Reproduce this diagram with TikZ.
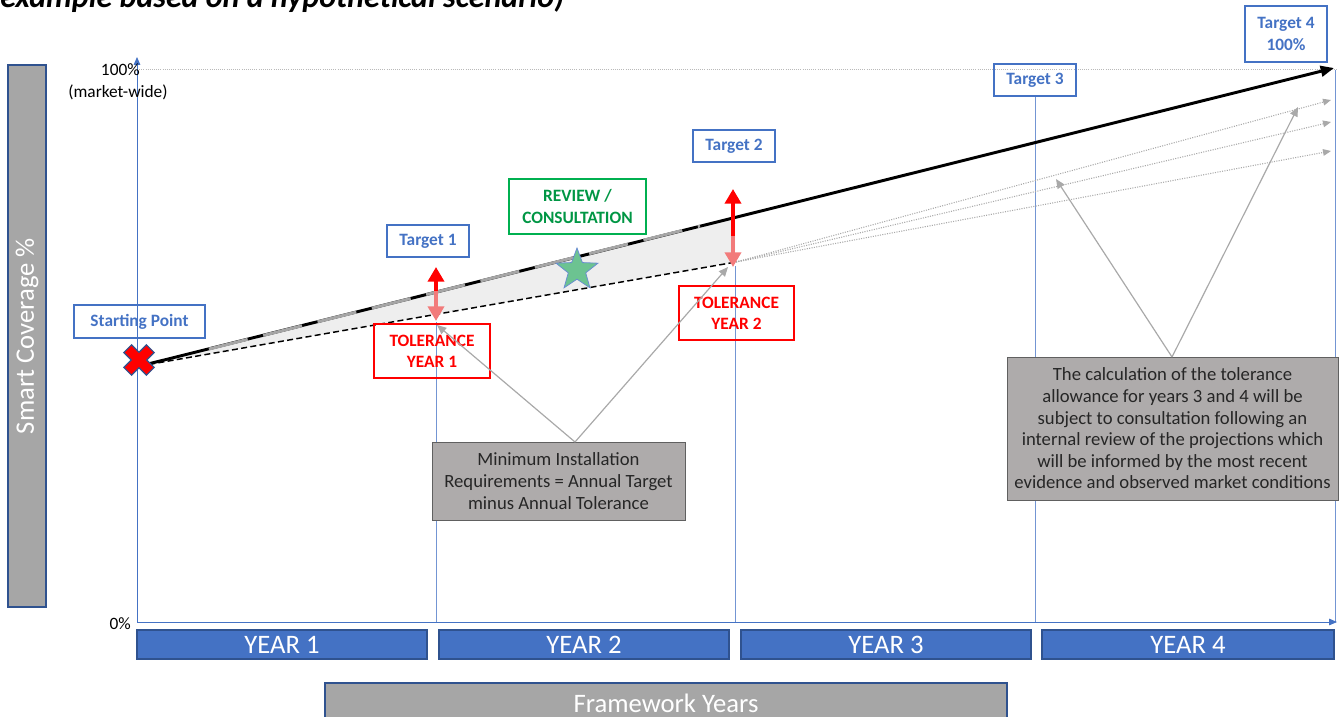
\documentclass[tikz,border=0pt]{standalone}
\usepackage{fontspec}
\setmainfont{Carlito}
\usepackage{tikz}
\usetikzlibrary{arrows.meta, shapes.geometric}
\definecolor{tblue}{HTML}{4472C4}
\definecolor{tblueline}{HTML}{2F528F}
\definecolor{tred}{HTML}{FF0000}
\definecolor{tpink}{HTML}{F27B7B}
\definecolor{tgreen}{HTML}{00B050}
\definecolor{stargreen}{HTML}{6CC391}
\definecolor{notegray}{HTML}{AEABAB}
\definecolor{bargray}{HTML}{A6A6A6}
\definecolor{wedgegray}{HTML}{EEEEEE}
\definecolor{arrgray}{HTML}{A9A9A9}
\tikzset{
  tgtbox/.style={draw=tblue,text=tblue,line width=0.9pt,inner sep=0pt,align=center,font=\bfseries\fontsize{13}{16}\selectfont},
  tolbox/.style={tgtbox,draw=tred,text=tred},
  revbox/.style={tgtbox,draw=tgreen,text=tgreen!85!black},
  notebox/.style={fill=notegray,draw=gray!75!black,line width=0.6pt,inner sep=0pt,align=center,text=black!85,font=\fontsize{14}{16.2}\selectfont},
  yearbar/.style={fill=tblue,draw=tblueline,line width=0.8pt,text=white,inner sep=0pt,minimum height=21.75pt,minimum width=217.5pt,font=\fontsize{20}{24}\selectfont},
  greybar/.style={fill=bargray,draw=tblueline,line width=0.8pt,text=white,inner sep=0pt,font=\fontsize{20}{24}\selectfont},
  axline/.style={draw=tblue,line width=0.6pt},
  axarrow/.style={axline,-{Triangle[length=6pt,width=5pt]}},
  divline/.style={draw=tblue!75,line width=0.6pt},
  mainarrow/.style={-{Triangle[length=10pt,width=8pt]},line width=2.2pt,black},
  tolline/.style={dashed,dash pattern=on 4.5pt off 2.5pt,line width=1.1pt,black},
  projarrow/.style={-{Triangle[length=6pt,width=5pt]},densely dotted,line width=0.8pt,arrgray},
  notearrow/.style={-{Triangle[length=7pt,width=6pt]},line width=0.9pt,arrgray},
  redup/.style={-{Triangle[length=11pt,width=12pt]},line width=3.4pt,tred},
  pinkdown/.style={-{Triangle[length=11pt,width=12pt]},line width=3.4pt,tpink},
}

\begin{document}
\begin{tikzpicture}[x=0.75pt,y=-0.75pt]
  \useasboundingbox (0,0) rectangle (1340,717);
  \node[anchor=base west,inner sep=0pt,font=\bfseries\itshape\fontsize{24}{28}\selectfont] (ttl) at (0,8) {example based on a hypothetical scenario)};

  % axes and grid
  \coordinate (org) at (137,622);
  \coordinate (ytop) at (137,57);
  \coordinate (xend) at (1337,622);
  \coordinate (hl) at (137,69);
  \coordinate (hr) at (1338,69);
  \fill[wedgegray] (140,366) -- (735,217) -- (735,262) -- cycle;
  \draw[gray!55,densely dotted,line width=0.6pt] (hl) -- (hr);
  \draw[divline] (436,322) -- (436,622);
  \draw[divline] (735,266) -- (735,622);
  \draw[divline] (1035,96) -- (1035,622);
  \draw[divline] (1335,70) -- (1335,622);
  \draw[axarrow] (org) -- (ytop);
  \draw[axarrow] (org) -- (xend);
  \node[anchor=east,inner sep=0pt,font=\fontsize{13}{15}\selectfont] (lbhi) at (140,70) {100\%};
  \node[inner sep=0pt,font=\fontsize{13}{15}\selectfont] (lbmw) at (118,92) {(market-wide)};
  \node[anchor=east,inner sep=0pt,font=\fontsize{13}{15}\selectfont] (lblo) at (131,624) {0\%};
  \node[greybar,rotate=90,minimum width=406.5pt,minimum height=28.5pt] (ylab) at (27,336) {Smart Coverage \%};

  % trajectories
  \coordinate (st) at (140,366);
  \coordinate (end4) at (1334,68);
  \coordinate (tol2) at (736,262);
  \coordinate (pa) at (1331,100);
  \coordinate (pb) at (1331,122);
  \coordinate (pc) at (1331,151);
  \draw[tolline] (st) -- (tol2);
  \draw[projarrow] (tol2) -- (pa);
  \draw[projarrow] (tol2) -- (pb);
  \draw[projarrow] (tol2) -- (pc);
  \draw[mainarrow] (st) -- (end4);
  \draw[gray!70,line width=2.2pt,dash pattern=on 30pt off 12pt,dash phase=-45pt] (205,350) -- (700,226);

  % tolerance arrows
  \coordinate (m1) at (436,292);
  \coordinate (u1) at (436,267);
  \coordinate (d1) at (436,321);
  \coordinate (m2) at (733,250);
  \coordinate (u2) at (733,189);
  \coordinate (n2) at (733,236);
  \coordinate (d2) at (733,267);
  \draw[redup] (m1) -- (u1);
  \draw[pinkdown] ([yshift=1pt]m1) -- (d1);
  \draw[redup] (m2) -- (u2);
  \draw[pinkdown] (n2) -- (d2);

  % start cross and review star
  \begin{scope}[shift={(139,360)},rotate=45]
    \draw[fill=tred,draw=tblueline,line width=0.9pt]
      (5.5,16) -- (5.5,5.5) -- (16,5.5) -- (16,-5.5) -- (5.5,-5.5) -- (5.5,-16)
      -- (-5.5,-16) -- (-5.5,-5.5) -- (-16,-5.5) -- (-16,5.5) -- (-5.5,5.5) -- (-5.5,16) -- cycle;
  \end{scope}
  \node[star,star points=5,star point ratio=2.4,minimum size=33pt,inner sep=0pt,fill=stargreen,draw=tblue!80,line width=0.6pt] (rstar) at (577,270) {};

  % labels
  \node[tgtbox,minimum width=98.25pt,minimum height=24.75pt] (sp) at (139.5,321.5) {Starting Point};
  \node[tgtbox,minimum width=61.5pt,minimum height=24pt] (t1) at (428,241) {Target 1};
  \node[tgtbox,minimum width=61.5pt,minimum height=24pt] (t2) at (734,146) {Target 2};
  \node[tgtbox,minimum width=61.5pt,minimum height=24pt] (t3) at (1035,80) {Target 3};
  \node[tgtbox,minimum width=61.5pt,minimum height=42pt] (t4) at (1286,34) {Target 4\\100\%};
  \node[revbox,minimum width=102.75pt,minimum height=41.25pt] (rev) at (577.5,206.5) {REVIEW /\\CONSULTATION};
  \node[tolbox,minimum width=87pt,minimum height=40.5pt] (tl1) at (432,351) {TOLERANCE\\YEAR 1};
  \node[tolbox,minimum width=86.25pt,minimum height=40.5pt] (tl2) at (736.5,313) {TOLERANCE\\YEAR 2};

  % notes
  \node[notebox,minimum width=189.75pt,minimum height=58.5pt] (minreq) at (558.5,481) {Minimum Installation\\Requirements = Annual Target\\minus Annual Tolerance};
  \node[notebox,minimum width=248.25pt,minimum height=107.25pt] (calc) at (1172.5,428.5) {The calculation of the tolerance\\allowance for years 3 and 4 will be\\subject to consultation following an\\internal review of the projections which\\will be informed by the most recent\\evidence and observed market conditions};
  \coordinate (mtop) at (575,442);
  \coordinate (mt1) at (437,325);
  \coordinate (mt2) at (728,267);
  \coordinate (ctop) at (1172,357);
  \coordinate (ct3) at (1056,179);
  \coordinate (ct4) at (1298,107);
  \draw[notearrow] (mtop) -- (mt1);
  \draw[notearrow] (mtop) -- (mt2);
  \draw[notearrow] (ctop) -- (ct3);
  \draw[notearrow] (ctop) -- (ct4);

  % years
  \node[yearbar] (y1) at (282,644.5) {YEAR 1};
  \node[yearbar] (y2) at (584,644.5) {YEAR 2};
  \node[yearbar] (y3) at (886,644.5) {YEAR 3};
  \node[yearbar,minimum width=219pt] (y4) at (1188,644.5) {YEAR 4};
  \node[greybar,minimum width=511.5pt,minimum height=30pt] (fw) at (666,703) {Framework Years};
\end{tikzpicture}
\end{document}
